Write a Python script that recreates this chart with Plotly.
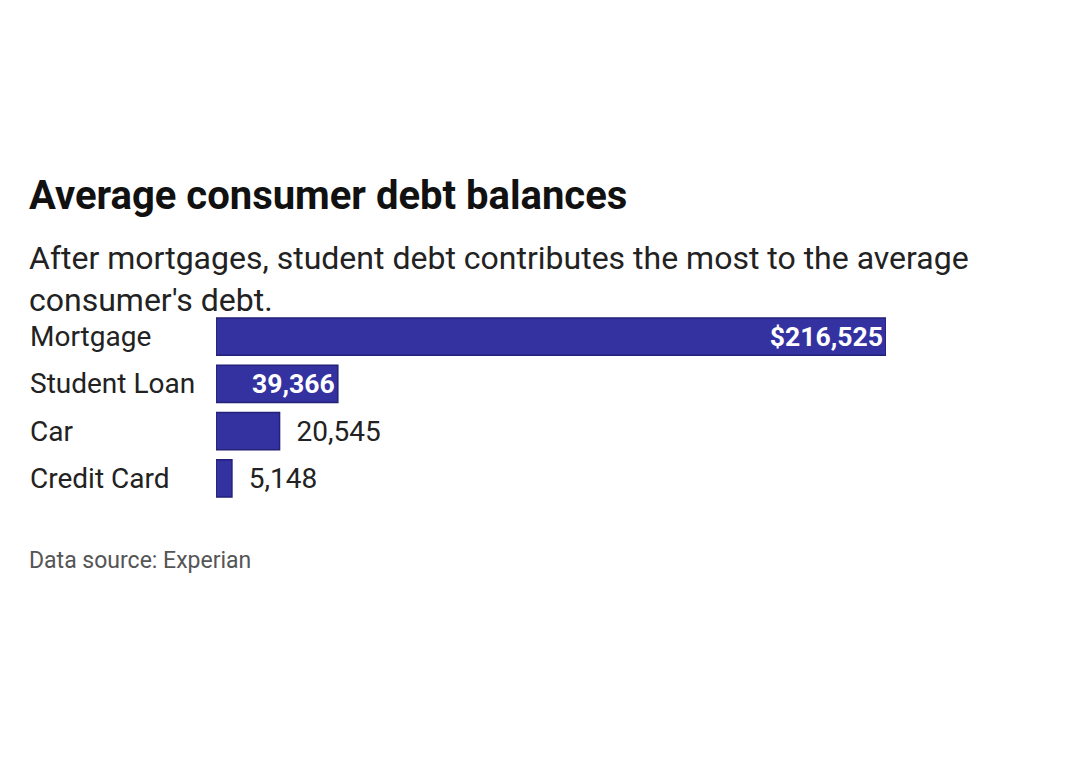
import plotly.graph_objects as go

categories = ["Mortgage", "Student Loan", "Car", "Credit Card"]
values = [216525, 39366, 20545, 5148]
value_labels = ["$216,525", "39,366", "  20,545", "  5,148"]
inside = [True, True, False, False]

fig = go.Figure()
fig.add_trace(go.Bar(
    x=values, y=categories, orientation="h",
    marker=dict(color="#3431a1", line=dict(color="#23217a", width=1.5)),
    width=0.79,
    text=value_labels,
    textposition=["inside" if i else "outside" for i in inside],
    insidetextanchor="end",
    textfont=dict(size=28, family="Roboto"),
    insidetextfont=dict(size=28, family="Roboto", color="white", weight="bold"),
    outsidetextfont=dict(size=28, family="Roboto", color="#222222"),
    cliponaxis=False,
    hoverinfo="skip",
))

for c in categories:
    fig.add_annotation(x=-0.28, xref="paper", y=c, yref="y", text=c,
                       showarrow=False, xanchor="left",
                       font=dict(size=28, family="Roboto", color="#222222"))

fig.add_annotation(x=-0.282, xref="paper", y=1.624, yref="paper",
                   text="<b>Average consumer debt balances</b>", showarrow=False,
                   xanchor="left", yanchor="middle",
                   font=dict(size=40, family="Roboto", color="#111111"))
fig.add_annotation(x=-0.282, xref="paper", y=1.40, yref="paper",
                   text="After mortgages, student debt contributes the most to the average<br>consumer's debt.",
                   showarrow=False, xanchor="left", yanchor="top", align="left",
                   font=dict(size=32, family="Roboto", color="#222222"))
fig.add_annotation(x=-0.282, xref="paper", y=-0.307, yref="paper",
                   text="Data source: Experian", showarrow=False,
                   xanchor="left", yanchor="middle",
                   font=dict(size=23, family="Roboto", color="#555555"))

fig.update_layout(
    width=1080, height=770,
    margin=dict(l=208, r=202, t=305, b=276),
    paper_bgcolor="white", plot_bgcolor="white",
    showlegend=False,
    bargap=0.21,
    xaxis=dict(range=[0, 216525], visible=False),
    yaxis=dict(autorange="reversed", showticklabels=False, showgrid=False, zeroline=False),
)

fig.write_html("out.html")
